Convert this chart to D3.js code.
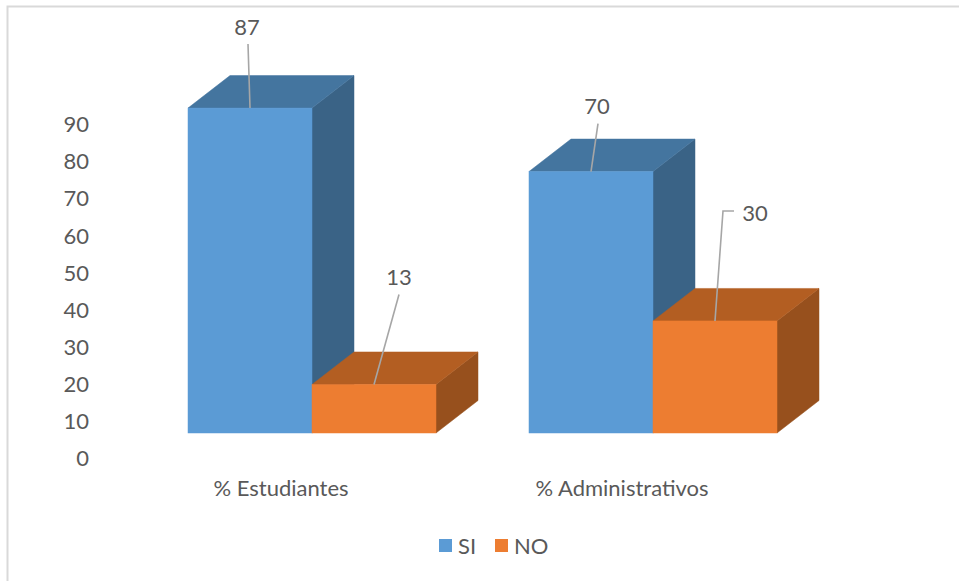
<!DOCTYPE html>
<html>
<head>
<meta charset="utf-8">
<script src="https://cdn.jsdelivr.net/npm/d3@7"></script>
<style>
  html, body { margin: 0; padding: 0; background: #ffffff; }
  svg { display: block; }
  text { font-family: Lato, "Open Sans", sans-serif; fill: #595959; }
</style>
</head>
<body>
<svg id="chart" width="959" height="581"></svg>
<script>
// Survey results: share of "SI" / "NO" answers per group
const categories = ["% Estudiantes", "% Administrativos"];
const seriesNames = ["SI", "NO"];
const siValues = [87, 70];
const noValues = [13, 30];
const yTicks = [0, 10, 20, 30, 40, 50, 60, 70, 80, 90];

// Label placement relative to the top-front centre of each column [dx, dy]
const labelNudge = {
  SI: [[-3, -81], [6, -65]],
  NO: [[25, -107], [40, -108]]
};

const svg = d3.select("#chart");
const W = 959, H = 581;
const fontSize = "22px";

// Chart frame
svg.append("rect")
  .attr("x", 7.5).attr("y", 6.5)
  .attr("width", W + 20).attr("height", H + 20)
  .attr("fill", "#ffffff")
  .attr("stroke", "#d9d9d9").attr("stroke-width", 2);

// Scales
const x = d3.scaleBand().domain(categories).range([188, 777])
  .paddingInner(0.2727).paddingOuter(0);
const xs = d3.scaleBand().domain(seriesNames).range([0, x.bandwidth()]).padding(0);
const y = d3.scaleLinear().domain([0, 90]).range([433, 433 - 90 * 3.735]);
const yAxisScale = d3.scaleLinear().domain([0, 90]).range([458, 124]);

// Depth of the extruded columns
const dx = 42, dy = -32.5;

const palette = {
  SI: { front: "#5b9bd5", top: "#44759f", side: "#3a6386" },
  NO: { front: "#ed7d31", top: "#b35e22", side: "#97501d" }
};

// Value axis (labels only)
const yAxis = d3.axisLeft(yAxisScale).tickValues(yTicks).tickSize(0).tickPadding(0);
const gy = svg.append("g").attr("transform", "translate(89,0)").call(yAxis);
gy.select(".domain").remove();
gy.selectAll("text")
  .style("font-family", "Lato, 'Open Sans', sans-serif")
  .style("font-size", fontSize).attr("fill", "#595959")
  .attr("dy", "0.35em");

// Build column records
const rows = [];
categories.forEach((c, i) => {
  rows.push({ cat: c, s: "SI", v: siValues[i], idx: i });
  rows.push({ cat: c, s: "NO", v: noValues[i], idx: i });
});

const bars = svg.append("g");
rows.forEach(d => {
  const x0 = x(d.cat) + xs(d.s);
  const x1 = x0 + xs.bandwidth();
  const yb = y(0), yt = y(d.v);
  const col = palette[d.s];
  const g = bars.append("g");
  // right side face
  g.append("path")
    .attr("d", `M${x1},${yt}L${x1 + dx},${yt + dy}L${x1 + dx},${yb + dy}L${x1},${yb}Z`)
    .attr("fill", col.side).attr("stroke", col.side).attr("stroke-width", 0.5);
  // top face
  g.append("path")
    .attr("d", `M${x0},${yt}L${x0 + dx},${yt + dy}L${x1 + dx},${yt + dy}L${x1},${yt}Z`)
    .attr("fill", col.top).attr("stroke", col.top).attr("stroke-width", 0.5);
  // front face
  g.append("rect")
    .attr("x", x0).attr("y", yt)
    .attr("width", xs.bandwidth()).attr("height", yb - yt)
    .attr("fill", col.front).attr("stroke", col.front).attr("stroke-width", 0.5);
});

// Data labels with leader lines
const labels = svg.append("g");
rows.forEach(d => {
  const ax = x(d.cat) + xs(d.s) + xs.bandwidth() / 2;
  const ay = y(d.v);
  const [nx, ny] = labelNudge[d.s][d.idx];
  const lx = ax + nx, ly = ay + ny;
  let path;
  if (Math.abs(nx) > 30) {
    // label sits to the right: elbow leader
    path = `M${lx - 21},${ly - 2}L${lx - 32},${ly - 2}L${ax},${ay}`;
  } else {
    path = `M${lx + (nx > 10 ? 0 : 1)},${ly + 17}L${ax},${ay}`;
  }
  labels.append("path").attr("d", path)
    .attr("fill", "none").attr("stroke", "#a6a6a6").attr("stroke-width", 1.6);
  labels.append("text")
    .attr("x", lx).attr("y", ly).attr("dy", "0.35em")
    .attr("text-anchor", "middle")
    .style("font-size", fontSize)
    .text(d.v);
});

// Category labels
svg.append("g").selectAll("text").data(categories).join("text")
  .attr("x", d => x(d) + x.bandwidth() / 2 - 31)
  .attr("y", 488).attr("dy", "0.35em")
  .attr("text-anchor", "middle")
  .style("font-size", fontSize)
  .text(d => d);

// Legend
const legendItems = [
  { name: "SI", color: palette.SI.front, x: 439 },
  { name: "NO", color: palette.NO.front, x: 495 }
];
const lg = svg.append("g");
legendItems.forEach(it => {
  lg.append("rect").attr("x", it.x).attr("y", 539)
    .attr("width", 13).attr("height", 13).attr("fill", it.color);
  lg.append("text").attr("x", it.x + 19).attr("y", 546).attr("dy", "0.35em")
    .style("font-size", fontSize).text(it.name);
});
</script>
</body>
</html>
